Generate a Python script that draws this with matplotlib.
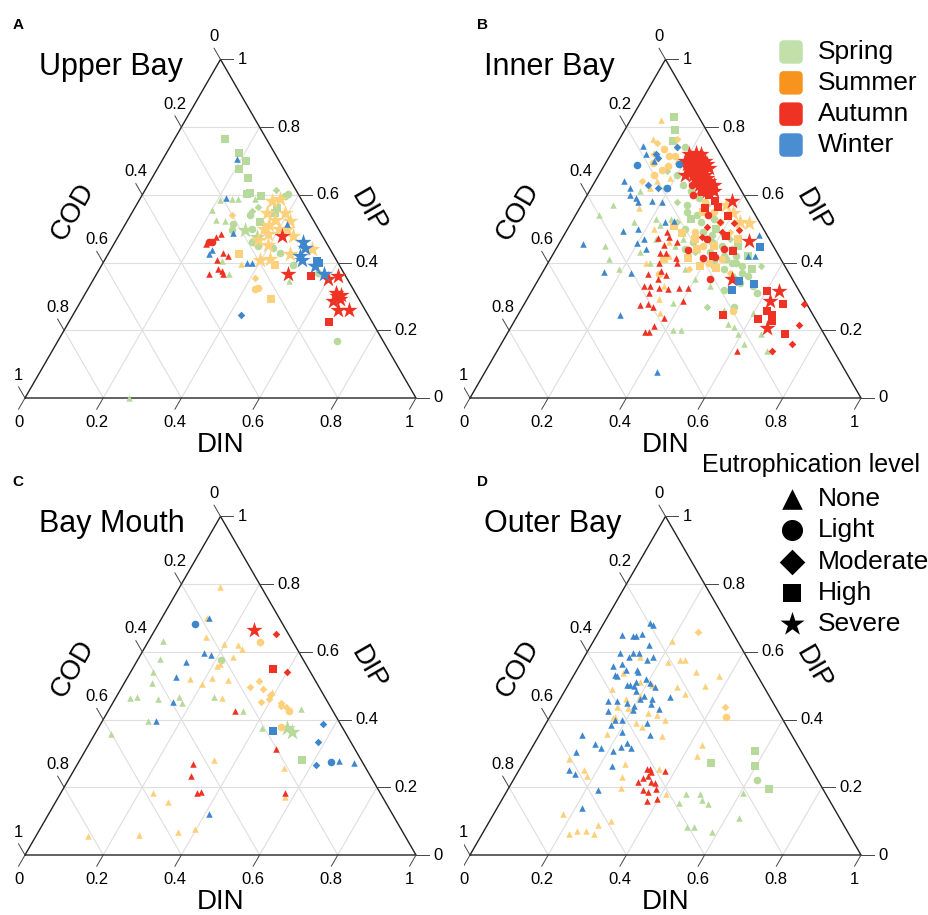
import numpy as np
import matplotlib
matplotlib.use("Agg")
import matplotlib.pyplot as plt
from matplotlib.patches import FancyBboxPatch

plt.rcParams['font.family'] = ['Liberation Sans', 'DejaVu Sans']

# ---- data: (DIN, DIP) pairs, COD = 1 - DIN - DIP ----
seasons = ["Spring", "Summer", "Autumn", "Winter"]
levels = ["None", "Light", "Moderate", "High", "Severe"]

upper_bay = {
    ("Spring", "None"): [(0.207, 0.586), (0.236, 0.589), (0.251, 0.589), (0.294, 0.589), (0.202, 0.554),
                         (0.225, 0.527), (0.251, 0.522), (0.301, 0.404), (0.338, 0.365), (0.503, 0.345),
                         (0.266, 0.0)],
    ("Spring", "Light"): [(0.370, 0.603), (0.367, 0.596), (0.306, 0.539), (0.274, 0.515), (0.283, 0.495),
                          (0.414, 0.443), (0.438, 0.429), (0.489, 0.394), (0.566, 0.369), (0.714, 0.167),
                          (0.35, 0.46), (0.37, 0.45), (0.33, 0.50)],
    ("Spring", "Moderate"): [(0.336, 0.613), (0.314, 0.565), (0.304, 0.552)],
    ("Spring", "High"): [(0.130, 0.764), (0.185, 0.724), (0.215, 0.700), (0.211, 0.675), (0.245, 0.651),
                         (0.272, 0.606), (0.266, 0.601), (0.306, 0.596), (0.366, 0.547), (0.363, 0.562),
                         (0.34, 0.52)],
    ("Spring", "Severe"): [(0.315, 0.496), (0.355, 0.476)],
    ("Summer", "None"): [(0.354, 0.396)],
    ("Summer", "Light"): [(0.427, 0.322), (0.432, 0.326)],
    ("Summer", "Moderate"): [(0.261, 0.539), (0.411, 0.355)],
    ("Summer", "High"): [(0.336, 0.424), (0.443, 0.392), (0.483, 0.291)],
    ("Summer", "Severe"): [(0.340, 0.581), (0.358, 0.588), (0.345, 0.547), (0.392, 0.547), (0.417, 0.522),
                           (0.361, 0.498), (0.381, 0.483), (0.420, 0.498), (0.447, 0.478), (0.396, 0.453),
                           (0.466, 0.424), (0.513, 0.440), (0.397, 0.409), (0.422, 0.411), (0.363, 0.468),
                           (0.376, 0.527), (0.37, 0.51), (0.40, 0.50)],
    ("Autumn", "None"): [(0.234, 0.456), (0.250, 0.476), (0.259, 0.483), (0.291, 0.429), (0.309, 0.419),
                         (0.286, 0.409), (0.304, 0.381), (0.316, 0.374), (0.288, 0.367), (0.325, 0.365)],
    ("Autumn", "Light"): [(0.247, 0.461), (0.240, 0.462)],
    ("Autumn", "High"): [(0.551, 0.360), (0.666, 0.224)],
    ("Autumn", "Severe"): [(0.419, 0.478), (0.491, 0.365), (0.601, 0.350), (0.620, 0.360), (0.647, 0.300),
                           (0.661, 0.291), (0.646, 0.286), (0.671, 0.261), (0.697, 0.261), (0.640, 0.310),
                           (0.655, 0.305)],
    ("Winter", "None"): [(0.190, 0.706), (0.218, 0.590), (0.289, 0.488), (0.260, 0.438), (0.259, 0.424),
                         (0.367, 0.399), (0.380, 0.399), (0.412, 0.515)],
    ("Winter", "Moderate"): [(0.429, 0.246)],
    ("Winter", "High"): [(0.553, 0.399), (0.545, 0.405)],
    ("Winter", "Severe"): [(0.482, 0.460), (0.495, 0.443), (0.494, 0.419), (0.503, 0.409), (0.548, 0.389),
                           (0.580, 0.367)],
}

inner_bay = {
    ("Spring", "None"): [(0.06, 0.54), (0.12, 0.45), (0.08, 0.57), (0.19, 0.38), (0.16, 0.52), (0.13, 0.61),
                         (0.42, 0.20), (0.44, 0.20), (0.55, 0.22), (0.57, 0.21), (0.59, 0.19), (0.65, 0.19),
                         (0.69, 0.14), (0.70, 0.14), (0.21, 0.53), (0.23, 0.51), (0.25, 0.53), (0.30, 0.45),
                         (0.22, 0.43), (0.26, 0.40), (0.36, 0.38), (0.40, 0.35), (0.45, 0.33), (0.38, 0.28),
                         (0.31, 0.47), (0.24, 0.47), (0.15, 0.41), (0.52, 0.26), (0.60, 0.25), (0.62, 0.16)],
    ("Spring", "Light"): [(0.18, 0.74), (0.20, 0.66), (0.23, 0.63), (0.26, 0.61), (0.29, 0.59), (0.28, 0.55),
                          (0.31, 0.54), (0.30, 0.50), (0.33, 0.52), (0.35, 0.49), (0.34, 0.46), (0.37, 0.47),
                          (0.39, 0.46), (0.40, 0.43), (0.42, 0.45), (0.44, 0.42), (0.45, 0.44), (0.47, 0.42),
                          (0.48, 0.40), (0.50, 0.39), (0.49, 0.36), (0.51, 0.37), (0.52, 0.34), (0.49, 0.32),
                          (0.54, 0.27), (0.58, 0.31), (0.56, 0.33), (0.46, 0.38), (0.43, 0.39), (0.41, 0.48),
                          (0.36, 0.53), (0.27, 0.57), (0.33, 0.44), (0.47, 0.40), (0.50, 0.35), (0.53, 0.36),
                          (0.45, 0.41), (0.38, 0.48)],
    ("Spring", "Moderate"): [(0.17, 0.67), (0.19, 0.62), (0.24, 0.58), (0.32, 0.57), (0.43, 0.47), (0.55, 0.39),
                             (0.47, 0.27), (0.36, 0.43), (0.27, 0.52)],
    ("Spring", "High"): [(0.107, 0.83), (0.13, 0.79), (0.14, 0.76), (0.30, 0.53), (0.38, 0.50), (0.46, 0.45),
                         (0.50, 0.42), (0.42, 0.41), (0.53, 0.38)],
    ("Summer", "None"): [(0.077, 0.821), (0.087, 0.764), (0.157, 0.64), (0.187, 0.65), (0.15, 0.621),
                         (0.15, 0.562), (0.339, 0.291), (0.30, 0.42), (0.25, 0.40), (0.33, 0.33), (0.36, 0.25),
                         (0.12, 0.71), (0.18, 0.70), (0.28, 0.46), (0.22, 0.50)],
    ("Summer", "Light"): [(0.128, 0.736), (0.152, 0.716), (0.167, 0.714), (0.121, 0.695), (0.154, 0.673),
                          (0.165, 0.685), (0.14, 0.66), (0.30, 0.365), (0.545, 0.256), (0.37, 0.45),
                          (0.41, 0.40), (0.35, 0.55), (0.38, 0.52), (0.33, 0.49), (0.44, 0.41), (0.27, 0.60),
                          (0.31, 0.58)],
    ("Summer", "Moderate"): [(0.101, 0.752), (0.146, 0.766), (0.11, 0.72), (0.16, 0.74), (0.12, 0.64),
                             (0.42, 0.49), (0.48, 0.37), (0.37, 0.38)],
    ("Summer", "High"): [(0.297, 0.488), (0.267, 0.507), (0.351, 0.414), (0.393, 0.391), (0.437, 0.384),
                         (0.34, 0.47), (0.36, 0.44), (0.40, 0.45), (0.45, 0.47), (0.32, 0.55), (0.29, 0.41)],
    ("Summer", "Severe"): [(0.454, 0.517), (0.40, 0.547), (0.37, 0.57), (0.43, 0.52)],
    ("Autumn", "None"): [(0.245, 0.473), (0.270, 0.453), (0.272, 0.476), (0.272, 0.429), (0.288, 0.429),
                         (0.320, 0.414), (0.284, 0.399), (0.300, 0.376), (0.319, 0.363), (0.306, 0.352),
                         (0.274, 0.365), (0.295, 0.330), (0.304, 0.310), (0.321, 0.325), (0.345, 0.322),
                         (0.371, 0.325), (0.396, 0.324), (0.298, 0.274), (0.317, 0.279), (0.333, 0.269),
                         (0.378, 0.236), (0.365, 0.212), (0.351, 0.194), (0.362, 0.194), (0.403, 0.286),
                         (0.612, 0.140), (0.26, 0.49), (0.30, 0.46), (0.33, 0.40), (0.28, 0.33)],
    ("Autumn", "Light"): [(0.255, 0.628), (0.340, 0.539), (0.339, 0.438), (0.390, 0.414), (0.418, 0.417),
                          (0.438, 0.352), (0.37, 0.47), (0.43, 0.44), (0.27, 0.60)],
    ("Autumn", "Moderate"): [(0.380, 0.519), (0.417, 0.517), (0.439, 0.496), (0.355, 0.476), (0.353, 0.504),
                             (0.714, 0.278), (0.735, 0.215), (0.744, 0.160), (0.704, 0.138), (0.40, 0.49)],
    ("Autumn", "High"): [(0.288, 0.609), (0.336, 0.581), (0.352, 0.565), (0.320, 0.562), (0.392, 0.537),
                         (0.417, 0.478), (0.457, 0.433), (0.413, 0.419), (0.602, 0.315), (0.660, 0.279),
                         (0.632, 0.256), (0.650, 0.246), (0.660, 0.227), (0.619, 0.233), (0.525, 0.246),
                         (0.711, 0.189), (0.30, 0.63), (0.31, 0.60)],
    ("Autumn", "Severe"): [(0.20, 0.72), (0.21, 0.71), (0.22, 0.70), (0.23, 0.70), (0.22, 0.68), (0.24, 0.69),
                           (0.25, 0.68), (0.23, 0.67), (0.24, 0.66), (0.26, 0.67), (0.25, 0.65), (0.27, 0.66),
                           (0.26, 0.64), (0.28, 0.65), (0.27, 0.63), (0.29, 0.63), (0.28, 0.62), (0.30, 0.62),
                           (0.30, 0.61), (0.32, 0.61), (0.21, 0.69), (0.23, 0.72), (0.25, 0.70), (0.26, 0.69),
                           (0.24, 0.67), (0.22, 0.66), (0.29, 0.64), (0.31, 0.63), (0.27, 0.68), (0.20, 0.70),
                           (0.215, 0.725), (0.235, 0.705), (0.245, 0.695), (0.255, 0.665), (0.265, 0.655),
                           (0.275, 0.645), (0.285, 0.635), (0.295, 0.625), (0.235, 0.685), (0.225, 0.675),
                           (0.379, 0.581), (0.483, 0.463), (0.493, 0.352), (0.632, 0.317), (0.624, 0.286),
                           (0.655, 0.207)],
    ("Winter", "None"): [(0.062, 0.456), (0.156, 0.371), (0.261, 0.246), (0.439, 0.077), (0.075, 0.640),
                         (0.146, 0.493), (0.110, 0.599), (0.174, 0.581), (0.071, 0.744), (0.227, 0.369),
                         (0.197, 0.458), (0.261, 0.522), (0.13, 0.59), (0.14, 0.58), (0.21, 0.47), (0.18, 0.50),
                         (0.10, 0.62), (0.09, 0.72), (0.12, 0.70), (0.20, 0.58), (0.23, 0.44), (0.24, 0.52),
                         (0.50, 0.48), (0.52, 0.42), (0.50, 0.42)],
    ("Winter", "Light"): [(0.084, 0.688), (0.189, 0.692), (0.194, 0.621)],
    ("Winter", "Moderate"): [(0.115, 0.72), (0.125, 0.71), (0.16, 0.74), (0.14, 0.63), (0.17, 0.62)],
    ("Winter", "High"): [(0.518, 0.445), (0.515, 0.347), (0.557, 0.338), (0.511, 0.320)],
}

bay_mouth = {
    ("Spring", "None"): [(0.036, 0.633), (0.056, 0.578), (0.059, 0.539), (0.071, 0.507), (0.037, 0.463),
                         (0.052, 0.468), (0.110, 0.461), (0.161, 0.468), (0.177, 0.448), (0.250, 0.468),
                         (0.346, 0.424), (0.117, 0.397), (0.041, 0.358), (0.417, 0.376), (0.491, 0.431)],
    ("Spring", "Light"): [(0.213, 0.576)],
    ("Spring", "High"): [(0.568, 0.281)],
    ("Spring", "Severe"): [(0.484, 0.374), (0.501, 0.362)],
    ("Summer", "None"): [(0.104, 0.790), (0.116, 0.700), (0.141, 0.645), (0.197, 0.624), (0.234, 0.621),
                         (0.251, 0.609), (0.241, 0.584), (0.216, 0.565), (0.213, 0.557), (0.162, 0.521),
                         (0.218, 0.522), (0.261, 0.517), (0.201, 0.505), (0.272, 0.465), (0.390, 0.481),
                         (0.535, 0.256), (0.579, 0.172), (0.342, 0.281), (0.236, 0.182), (0.289, 0.156),
                         (0.358, 0.069), (0.397, 0.077), (0.263, 0.059), (0.132, 0.057)],
    ("Summer", "Light"): [(0.287, 0.629), (0.463, 0.424), (0.466, 0.379)],
    ("Summer", "Moderate"): [(0.342, 0.515), (0.327, 0.495), (0.364, 0.490), (0.389, 0.473), (0.393, 0.460),
                             (0.377, 0.453), (0.432, 0.448), (0.434, 0.440), (0.450, 0.436)],
    ("Autumn", "None"): [(0.325, 0.426), (0.485, 0.312), (0.295, 0.269), (0.308, 0.234), (0.349, 0.184),
                         (0.356, 0.187), (0.574, 0.182)],
    ("Autumn", "Moderate"): [(0.315, 0.652), (0.400, 0.539)],
    ("Autumn", "High"): [(0.359, 0.549)],
    ("Autumn", "Severe"): [(0.254, 0.665)],
    ("Winter", "None"): [(0.121, 0.700), (0.161, 0.596), (0.181, 0.591), (0.126, 0.569), (0.122, 0.527),
                         (0.153, 0.453), (0.137, 0.397), (0.663, 0.279), (0.706, 0.271), (0.410, 0.121)],
    ("Winter", "Light"): [(0.094, 0.682), (0.646, 0.274)],
    ("Winter", "Moderate"): [(0.568, 0.387), (0.583, 0.335), (0.611, 0.267)],
    ("Winter", "High"): [(0.450, 0.367)],
}

outer_bay = {
    ("Spring", "None"): [(0.607, 0.184), (0.462, 0.180), (0.497, 0.180), (0.513, 0.161), (0.533, 0.151),
                         (0.458, 0.155), (0.634, 0.110), (0.512, 0.084), (0.532, 0.084), (0.584, 0.069)],
    ("Spring", "Light"): [(0.622, 0.222)],
    ("Spring", "High"): [(0.575, 0.308), (0.598, 0.263), (0.482, 0.271), (0.666, 0.195)],
    ("Summer", "None"): [(0.201, 0.633), (0.144, 0.584), (0.249, 0.575), (0.262, 0.575), (0.221, 0.569),
                         (0.308, 0.539), (0.373, 0.529), (0.283, 0.495), (0.351, 0.500), (0.312, 0.476),
                         (0.117, 0.490), (0.156, 0.438), (0.167, 0.409), (0.250, 0.379), (0.171, 0.357),
                         (0.317, 0.350), (0.431, 0.325), (0.434, 0.293), (0.112, 0.283), (0.262, 0.268),
                         (0.165, 0.251), (0.182, 0.232), (0.273, 0.230), (0.357, 0.253), (0.287, 0.199),
                         (0.413, 0.179), (0.177, 0.120), (0.284, 0.089), (0.310, 0.101), (0.223, 0.061),
                         (0.238, 0.071), (0.261, 0.071), (0.287, 0.061), (0.122, 0.538), (0.180, 0.511),
                         (0.214, 0.502), (0.187, 0.434), (0.164, 0.405), (0.245, 0.420), (0.271, 0.414),
                         (0.300, 0.399), (0.20, 0.47), (0.17, 0.46), (0.23, 0.39)],
    ("Summer", "Light"): [(0.450, 0.409)],
    ("Summer", "Moderate"): [(0.253, 0.658), (0.433, 0.438)],
    ("Autumn", "None"): [(0.326, 0.253), (0.334, 0.253), (0.373, 0.249), (0.322, 0.217), (0.330, 0.227),
                         (0.338, 0.232), (0.354, 0.217), (0.367, 0.212), (0.347, 0.192), (0.377, 0.195),
                         (0.373, 0.158), (0.396, 0.166), (0.340, 0.245), (0.362, 0.185)],
    ("Winter", "None"): [(0.118, 0.685), (0.127, 0.680), (0.065, 0.650), (0.094, 0.647), (0.101, 0.647),
                         (0.113, 0.652), (0.148, 0.621), (0.174, 0.586), (0.165, 0.575), (0.085, 0.598),
                         (0.117, 0.598), (0.132, 0.598), (0.115, 0.584), (0.106, 0.565), (0.087, 0.557),
                         (0.125, 0.547), (0.153, 0.547), (0.160, 0.540), (0.105, 0.532), (0.110, 0.530),
                         (0.150, 0.502), (0.158, 0.502), (0.169, 0.500), (0.183, 0.483), (0.207, 0.507),
                         (0.225, 0.495), (0.278, 0.468), (0.126, 0.456), (0.147, 0.456), (0.177, 0.448),
                         (0.203, 0.429), (0.206, 0.460), (0.200, 0.440), (0.236, 0.460), (0.240, 0.445),
                         (0.269, 0.431), (0.139, 0.426), (0.172, 0.399), (0.190, 0.400), (0.170, 0.383),
                         (0.256, 0.391), (0.209, 0.362), (0.283, 0.355), (0.109, 0.353), (0.156, 0.327),
                         (0.178, 0.315), (0.236, 0.330), (0.253, 0.317), (0.225, 0.320), (0.120, 0.303),
                         (0.211, 0.308), (0.128, 0.251), (0.148, 0.239), (0.231, 0.263), (0.232, 0.192),
                         (0.217, 0.138), (0.19, 0.52), (0.17, 0.51), (0.21, 0.47)],
}

panels = [("A", "Upper Bay", upper_bay), ("B", "Inner Bay", inner_bay),
          ("C", "Bay Mouth", bay_mouth), ("D", "Outer Bay", outer_bay)]

# ---- styles ----
point_colors = {"Spring": "#b7da9c", "Summer": "#fdd07c", "Autumn": "#ee3224", "Winter": "#3f87cc"}
legend_colors = {"Spring": "#c2e0a9", "Summer": "#f7941e", "Autumn": "#ee3224", "Winter": "#4a8dd1"}
markers = {"None": "^", "Light": "o", "Moderate": "D", "High": "s", "Severe": "*"}
sizes = {"None": 22, "Light": 30, "Moderate": 15, "High": 28, "Severe": 150}

H = np.sqrt(3) / 2
TICK = 0.033
ticks = [0, 0.2, 0.4, 0.6, 0.8, 1]


def to_xy(din, dip):
    din = np.asarray(din, float)
    dip = np.asarray(dip, float)
    return din + dip / 2, dip * H


def fmt(v):
    return "%g" % v


def draw_frame(ax):
    grid_kw = dict(color="#dedede", lw=0.8, zorder=1)
    for v in ticks[1:-1]:
        # DIP = v (horizontal)
        ax.plot(*to_xy([0, 1 - v], [v, v]), **grid_kw)
        # DIN = v
        ax.plot(*to_xy([v, v], [0, 1 - v]), **grid_kw)
        # COD = v
        ax.plot(*to_xy([1 - v, 0], [0, 1 - v]), **grid_kw)
    ax.plot(*to_xy([0, 1, 0, 0], [0, 0, 1, 0]), color="#222222", lw=1.0, zorder=2)

    tk = dict(color="#444444", lw=0.7, zorder=2)
    for v in ticks:
        # DIN along bottom
        x0, y0 = to_xy(v, 0)
        x1, y1 = x0 - 0.5 * TICK, y0 - H * TICK
        ax.plot([x0, x1], [y0, y1], **tk)
        ax.text(x1, y1 - 0.033, fmt(v), ha="center", va="center", fontsize=12)
        # COD along left
        x0, y0 = to_xy(0, 1 - v)
        x1, y1 = x0 - 0.5 * TICK, y0 + H * TICK
        ax.plot([x0, x1], [y0, y1], **tk)
        ax.text(x1, y1 + 0.030, fmt(v), ha="center", va="center", fontsize=12)
        # DIP along right
        x0, y0 = to_xy(1 - v, v)
        x1 = x0 + TICK
        ax.plot([x0, x1], [y0, y0], **tk)
        ax.text(x1 + 0.012, y0, fmt(v), ha="left", va="center", fontsize=12)

    ax.text(0.123, 0.475, "COD", rotation=60, ha="center", va="center", fontsize=20,
            rotation_mode="anchor")
    ax.text(0.877, 0.478, "DIP", rotation=-60, ha="center", va="center", fontsize=20,
            rotation_mode="anchor")
    ax.text(0.5, -0.120, "DIN", ha="center", va="center", fontsize=20)


fig = plt.figure(figsize=(9.29, 9.15), dpi=100)

# axes boxes in pixels: (left, top) and the bottom-left vertex of the triangle
boxes = [((0, 0), (25, 398)), ((464.5, 0), (470, 398)),
         ((0, 457.5), (25, 855)), ((464.5, 457.5), (470, 855))]
SIDE = 391.0
W, Hpx = 929.0, 915.0
axes = []
for (letter, title, data), ((bx, by), (vx, vy)) in zip(panels, boxes):
    ax = fig.add_axes([bx / W, 1 - (by + 457.5) / Hpx, 464.5 / W, 457.5 / Hpx])
    ax.set_xlim((bx - vx) / SIDE, (bx + 464.5 - vx) / SIDE)
    ax.set_ylim((vy - (by + 457.5)) / SIDE, (vy - by) / SIDE)
    ax.axis("off")
    draw_frame(ax)
    for s in seasons:
        for lv in levels:
            pts = data.get((s, lv))
            if not pts:
                continue
            din, dip = zip(*pts)
            x, y = to_xy(din, dip)
            ax.scatter(x, y, marker=markers[lv], s=sizes[lv], c=point_colors[s],
                       linewidths=0, zorder=3, clip_on=False)
    ax.text(0.036, 0.826, title, ha="left", va="baseline", fontsize=22)
    ax.text((bx + 18 - vx) / SIDE, (vy - by - 25) / SIDE, letter, ha="center", va="center",
            fontsize=11, fontweight="bold")
    axes.append(ax)

# season legend (panel B)
axB = axes[1]
row_y = [0.885, 0.806, 0.726, 0.647]
box = 0.060
for s, yy in zip(seasons, row_y):
    axB.add_patch(FancyBboxPatch((0.821 - box / 2, yy - box / 2), box, box,
                                 boxstyle="round,pad=0,rounding_size=0.012",
                                 fc=legend_colors[s], ec="none", clip_on=False, zorder=4))
    axB.text(0.890, yy, s, ha="left", va="center", fontsize=19)

# eutrophication legend (panel D)
axD = axes[3]
axD.text(0.593, 0.997, "Eutrophication level", ha="left", va="center", fontsize=18)
lev_y = [0.910, 0.831, 0.749, 0.670, 0.591]
lev_s = {"None": 220, "Light": 230, "Moderate": 170, "High": 170, "Severe": 330}
for lv, yy in zip(levels, lev_y):
    axD.scatter([0.824], [yy], marker=markers[lv], s=lev_s[lv], c="black", linewidths=0,
                clip_on=False, zorder=4)
    axD.text(0.890, yy, lv, ha="left", va="center", fontsize=19)

fig.savefig("out.png", dpi=100)
